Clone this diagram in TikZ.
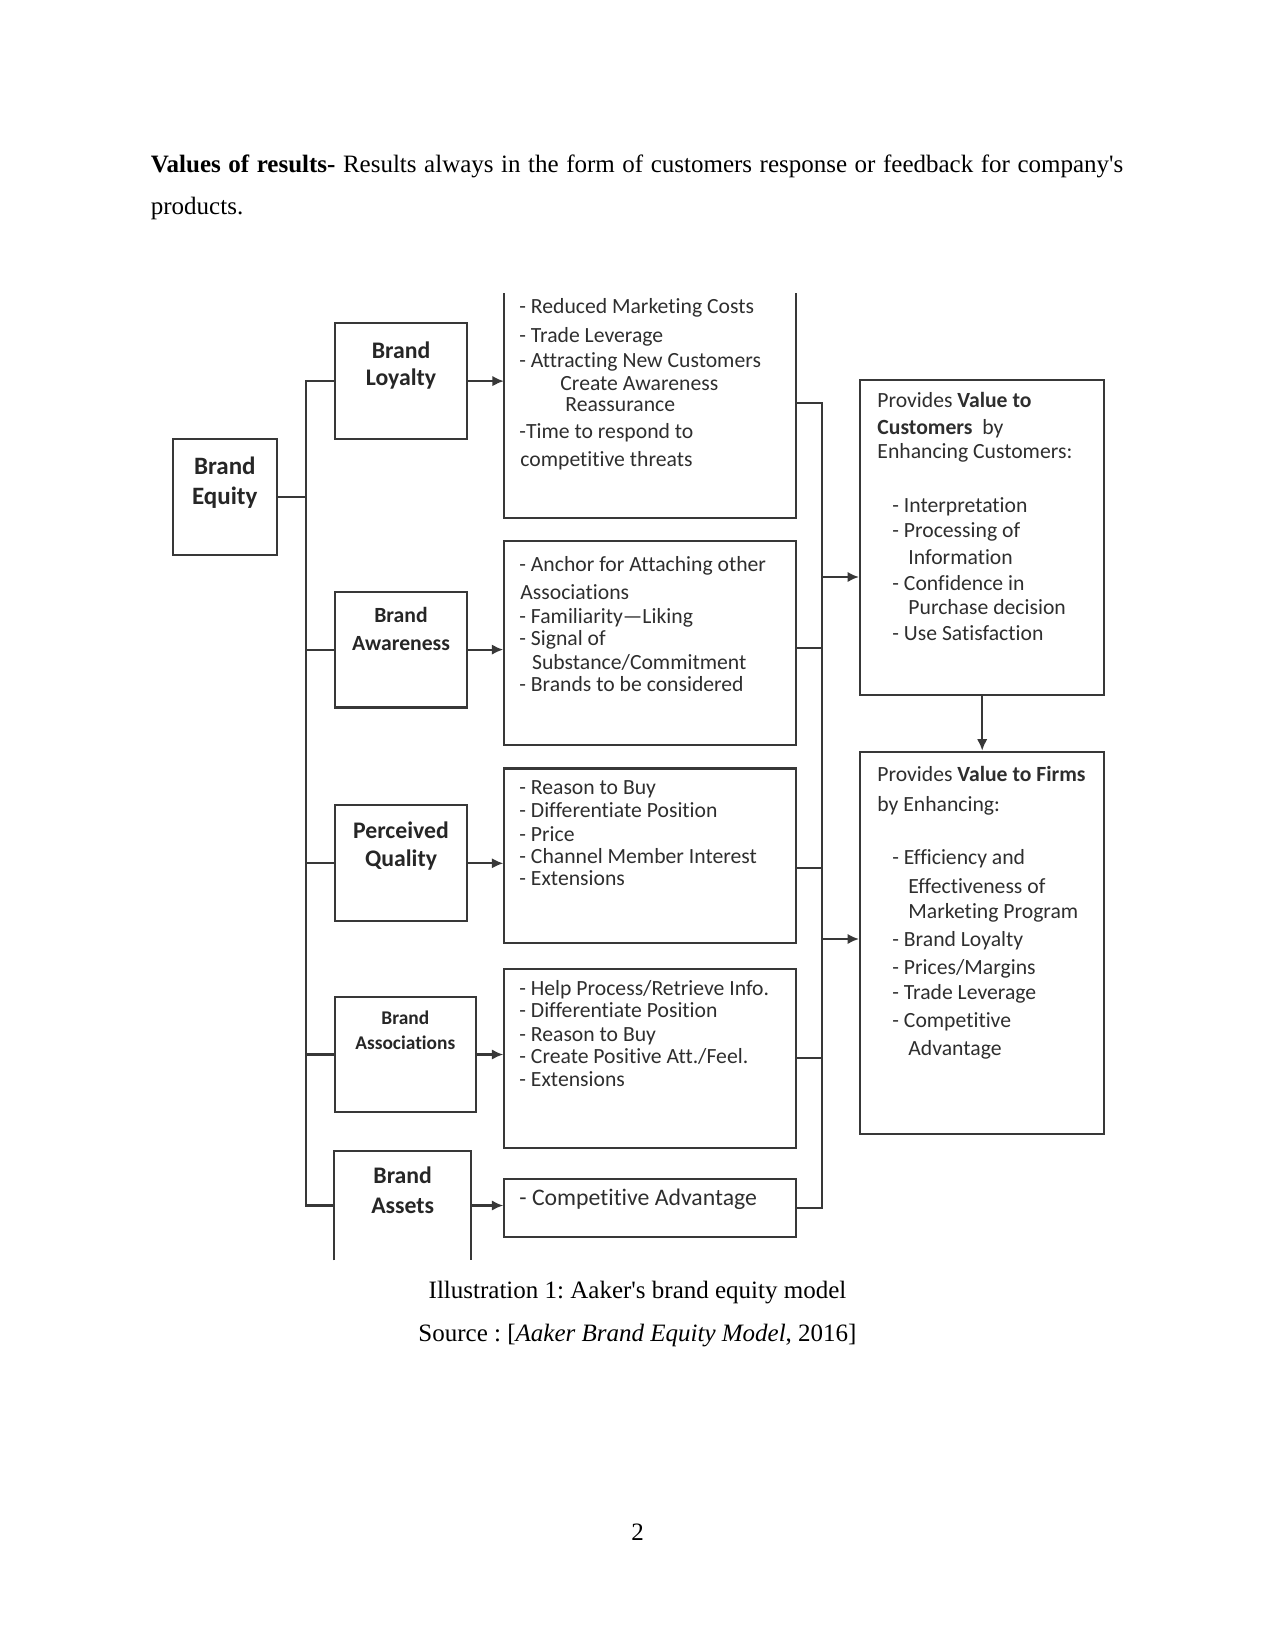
\documentclass[tikz,border=0pt]{standalone}
\usepackage{fontspec}
\setmainfont{Liberation Serif}[Ligatures=TeXOff]
\newfontfamily\calfont{Carlito}[Ligatures=NoCommon]
\usetikzlibrary{arrows.meta,fit}
\newcommand\mybox[6][box]{\path (#3,#4) coordinate (#2-a) (#5,#6) coordinate (#2-b);
  \node[#1, fit=(#2-a)(#2-b)] (#2) {};}
\frenchspacing
\begin{document}
\begin{tikzpicture}[x=0.48pt,y=-0.48pt,
  ln/.style={draw=black!78, line width=1pt},
  box/.style={ln, inner sep=0pt},
  openbox/.style={inner sep=0pt, draw=none},
  arr/.style={ln, -{Latex[length=5.5pt,width=5pt]}},
  lbl/.style={font=\calfont\bfseries\fontsize{#1}{#1}\selectfont, text=black!85, anchor=base, inner sep=0pt},
  itm/.style={font=\calfont\fontsize{10.4}{12}\selectfont, text=black!82, anchor=base west, inner sep=0pt},
  body/.style={font=\fontsize{12}{14}\selectfont, anchor=base west, inner sep=0pt},
  captxt/.style={font=\fontsize{12}{14}\selectfont, anchor=base, inner sep=0pt}]
\useasboundingbox (0,0) rectangle (1275,1651);

% body text
\node[body] (p1) at (150.5,172.5) {\makebox[466.8pt][s]{\textbf{Values of results-} Results always in the form of customers response or feedback for company's}};
\node[body] (p2) at (150.5,215) {products.};

% left boxes
\mybox{be}{172.7}{439}{276.9}{554.8}
\mybox{bl}{334.8}{323.2}{467.4}{439}
\mybox{bw}{334.8}{591.7}{467.4}{707.5}
\mybox{bq}{334.8}{805.4}{467.4}{921.2}
\mybox{bs}{334.8}{997}{476}{1112}
\mybox[openbox]{ba}{334.8}{1151}{471}{1260}
\draw[ln] (ba.south west) -- (ba.north west) -- (ba.north east) -- (ba.south east);

% middle boxes
\mybox[openbox]{t1}{504.3}{293.7}{796}{518}
\draw[ln] (t1.north west) -- (t1.south west) -- (t1.south east) -- (t1.north east);
\mybox{t2}{504.3}{541}{796}{745.4}
\mybox{t3}{504.3}{768.5}{796}{943.3}
\mybox{t4}{504.3}{968.6}{796}{1147.6}
\mybox{t5}{504.3}{1179}{796}{1237}

% right boxes
\mybox{r1}{860}{380}{1104.4}{694.8}
\mybox{r2}{860}{751.7}{1104.4}{1133.9}

% left connectors
\coordinate (L) at (306.4,0);
\draw[ln] (be.east) -- (be.east -| L);
\draw[ln] (bl.west) -- (bl.west -| L) -- (ba.west -| L) -- (ba.west);
\draw[ln] (bw.west -| L) -- (bw.west);
\draw[ln] (bq.west -| L) -- (bq.west);
\draw[ln] (bs.west -| L) -- (bs.west);
\draw[arr] (bl.east) -- (bl.east -| t1.west);
\draw[arr] (bw.east) -- (bw.east -| t2.west);
\draw[arr] (bq.east) -- (bq.east -| t3.west);
\draw[arr] (bs.east) -- (bs.east -| t4.west);
\draw[arr] (ba.east) -- (ba.east -| t5.west);

% right connectors
\coordinate (R) at (822,0);
\coordinate (o1) at (796,403);
\coordinate (o2) at (796,648);
\coordinate (o3) at (796,868);
\draw[ln] (o1) -- (o1 -| R) -- (t5.east -| R) -- (t5.east);
\draw[ln] (o2) -- (o2 -| R);
\draw[ln] (o3) -- (o3 -| R);
\draw[ln] (t4.east) -- (t4.east -| R);
\coordinate (i1) at (822,577);
\coordinate (i2) at (822,939);
\draw[arr] (i1) -- (i1 -| r1.west);
\draw[arr] (i2) -- (i2 -| r2.west);
\draw[arr] (r1.south) -- (r2.north);

% labels
\node[lbl=12] (beA) at (224.8,474) {Brand};
\node[lbl=12] (beB) at (224.8,504) {Equity};
\node[lbl=11.4] (blA) at (401,358) {Brand};
\node[lbl=11.4] (blB) at (401,385) {Loyalty};
\node[lbl=10.4] (bwA) at (401,622) {Brand};
\node[lbl=10.4] (bwB) at (401,650) {Awareness};
\node[lbl=11.4] (bqA) at (401,838) {Perceived};
\node[lbl=11.4] (bqB) at (401,866) {Quality};
\node[lbl=9.3] (bsA) at (405.3,1024) {Brand};
\node[lbl=9.3] (bsB) at (405.3,1049) {Associations};
\node[lbl=11.4] (baA) at (402.7,1183) {Brand};
\node[lbl=11.4] (baB) at (402.7,1213) {Assets};

% box 1 items
\node[itm] (t1a) at (519,313) {- Reduced Marketing Costs};
\node[itm] (t1b) at (519,342) {- Trade Leverage};
\node[itm] (t1c) at (519,367) {- Attracting New Customers};
\node[itm] (t1d) at (560,390) {Create Awareness};
\node[itm] (t1e) at (565,411) {Reassurance};
\node[itm] (t1f) at (519,438) {-Time to respond to};
\node[itm] (t1g) at (520,466) {competitive threats};
% box 2 items
\node[itm] (t2a) at (519,571) {- Anchor for Attaching other};
\node[itm] (t2b) at (520,599) {Associations};
\node[itm] (t2c) at (519,623) {- Familiarity—Liking};
\node[itm] (t2d) at (519,645) {- Signal of};
\node[itm] (t2e) at (531.7,669) {Substance/Commitment};
\node[itm] (t2f) at (519,691) {- Brands to be considered};
% box 3 items
\node[itm] (t3a) at (519,794.5) {- Reason to Buy};
\node[itm] (t3b) at (519,817) {- Differentiate Position};
\node[itm] (t3c) at (519,841) {- Price};
\node[itm] (t3d) at (519,863) {- Channel Member Interest};
\node[itm] (t3e) at (519,885) {- Extensions};
% box 4 items
\node[itm] (t4a) at (519,995) {- Help Process/Retrieve Info.};
\node[itm] (t4b) at (519,1017) {- Differentiate Position};
\node[itm] (t4c) at (519,1041) {- Reason to Buy};
\node[itm] (t4d) at (519,1063) {- Create Positive Att./Feel.};
\node[itm] (t4e) at (519,1086) {- Extensions};
% box 5
\node[itm, font=\calfont\fontsize{11.4}{13}\selectfont] (t5a) at (519,1205) {- Competitive Advantage};

% right box 1
\node[itm] (r1a) at (877,407) {Provides \textbf{Value to}};
\node[itm] (r1b) at (877,434) {\textbf{Customers}\ \ by};
\node[itm] (r1c) at (877,458) {Enhancing Customers:};
\node[itm] (r1d) at (892,512) {- Interpretation};
\node[itm] (r1e) at (892,537) {- Processing of};
\node[itm] (r1f) at (908,564) {Information};
\node[itm] (r1g) at (892,590) {- Confidence in};
\node[itm] (r1h) at (908,614) {Purchase decision};
\node[itm] (r1i) at (892,640) {- Use Satisfaction};
% right box 2
\node[itm] (r2a) at (877,781) {Provides \textbf{Value to Firms}};
\node[itm] (r2b) at (877,811) {by Enhancing:};
\node[itm] (r2c) at (892,864) {- Efficiency and};
\node[itm] (r2d) at (908,893) {Effectiveness of};
\node[itm] (r2e) at (908,918) {Marketing Program};
\node[itm] (r2f) at (892,946) {- Brand Loyalty};
\node[itm] (r2g) at (892,974) {- Prices/Margins};
\node[itm] (r2h) at (892,999) {- Trade Leverage};
\node[itm] (r2i) at (892,1027) {- Competitive};
\node[itm] (r2j) at (908,1055) {Advantage};

% caption
\node[captxt] (c1) at (637.5,1298) {Illustration 1: Aaker's brand equity model};
\node[captxt] (c2) at (637.5,1341) {Source : [\textit{Aaker Brand Equity Model}, 2016]};
\node[captxt] (pg) at (637.5,1540) {2};
\end{tikzpicture}
\end{document}
